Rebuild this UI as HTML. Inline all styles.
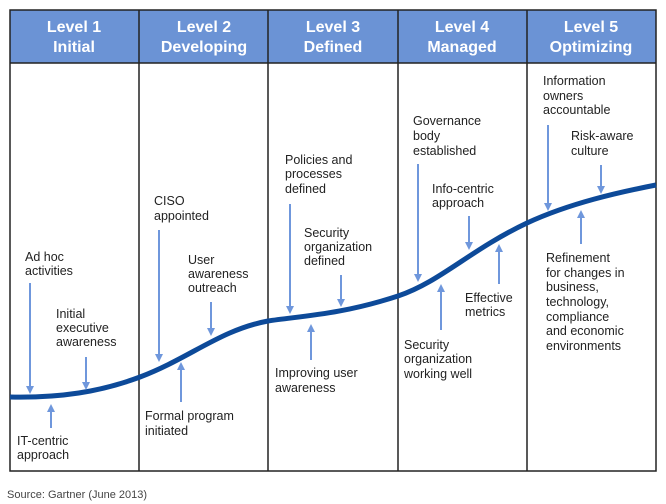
<!DOCTYPE html>
<html><head><meta charset="utf-8"><style>
html,body{margin:0;padding:0;background:#fff;}
svg{display:block;}
text{font-family:"Liberation Sans",Arial,sans-serif;}
.t{font-size:12.5px;fill:#222;}
.h{font-size:16px;font-weight:bold;fill:#fff;text-anchor:middle;}
.a{stroke:#6f97dc;stroke-width:2;fill:none;}
</style></head><body>
<svg width="666" height="504" viewBox="0 0 666 504">
<defs>
<marker id="m" markerWidth="8" markerHeight="8" refX="4" refY="4" orient="auto" markerUnits="userSpaceOnUse">
<path d="M0,0 L8,4 L0,8 z" fill="#6f97dc"/></marker>
</defs>
<rect x="10" y="10" width="646" height="53" fill="#6b93d5"/>
<rect x="10" y="10" width="646" height="461" fill="none" stroke="#222" stroke-width="1.5"/>
<line x1="10" y1="63" x2="656" y2="63" stroke="#222" stroke-width="1.5"/>
<g stroke="#222" stroke-width="1.5">
<line x1="139" y1="10" x2="139" y2="471"/><line x1="268" y1="10" x2="268" y2="471"/>
<line x1="398" y1="10" x2="398" y2="471"/><line x1="527" y1="10" x2="527" y2="471"/>
</g>
<text class="h" x="74" y="32">Level 1</text><text class="h" x="74" y="52">Initial</text>
<text class="h" x="204" y="32">Level 2</text><text class="h" x="204" y="52">Developing</text>
<text class="h" x="333" y="32">Level 3</text><text class="h" x="333" y="52">Defined</text>
<text class="h" x="462" y="32">Level 4</text><text class="h" x="462" y="52">Managed</text>
<text class="h" x="591" y="32">Level 5</text><text class="h" x="591" y="52">Optimizing</text>

<path d="M10,397 C60,398 100,392 140,377 C190,358 220,330 268,321 C300,316 340,315 398,296 C440,282 470,250 527,223 C570,203 620,192 656,185" fill="none" stroke="#0d4a99" stroke-width="5"/>

<g class="a">
<line x1="30" y1="283" x2="30" y2="390" marker-end="url(#m)"/>
<line x1="86" y1="357" x2="86" y2="386" marker-end="url(#m)"/>
<line x1="51" y1="428" x2="51" y2="408" marker-end="url(#m)"/>
<line x1="159" y1="230" x2="159" y2="358" marker-end="url(#m)"/>
<line x1="211" y1="302" x2="211" y2="332" marker-end="url(#m)"/>
<line x1="181" y1="402" x2="181" y2="366" marker-end="url(#m)"/>
<line x1="290" y1="204" x2="290" y2="310" marker-end="url(#m)"/>
<line x1="341" y1="275" x2="341" y2="303" marker-end="url(#m)"/>
<line x1="311" y1="360" x2="311" y2="328" marker-end="url(#m)"/>
<line x1="418" y1="164" x2="418" y2="278" marker-end="url(#m)"/>
<line x1="469" y1="216" x2="469" y2="246" marker-end="url(#m)"/>
<line x1="499" y1="284" x2="499" y2="248" marker-end="url(#m)"/>
<line x1="441" y1="330" x2="441" y2="288" marker-end="url(#m)"/>
<line x1="548" y1="125" x2="548" y2="207" marker-end="url(#m)"/>
<line x1="601" y1="165" x2="601" y2="190" marker-end="url(#m)"/>
<line x1="581" y1="244" x2="581" y2="214" marker-end="url(#m)"/>
</g>

<g class="t">
<text x="25" y="261">Ad hoc</text><text x="25" y="275">activities</text>
<text x="56" y="318">Initial</text><text x="56" y="332">executive</text><text x="56" y="346">awareness</text>
<text x="17" y="445">IT-centric</text><text x="17" y="459">approach</text>
<text x="154" y="205">CISO</text><text x="154" y="220">appointed</text>
<text x="188" y="264">User</text><text x="188" y="278">awareness</text><text x="188" y="292">outreach</text>
<text x="145" y="420">Formal program</text><text x="145" y="435">initiated</text>
<text x="285" y="164">Policies and</text><text x="285" y="178">processes</text><text x="285" y="193">defined</text>
<text x="304" y="237">Security</text><text x="304" y="251">organization</text><text x="304" y="265">defined</text>
<text x="275" y="377">Improving user</text><text x="275" y="392">awareness</text>
<text x="413" y="125">Governance</text><text x="413" y="140">body</text><text x="413" y="155">established</text>
<text x="432" y="193">Info-centric</text><text x="432" y="207">approach</text>
<text x="465" y="302">Effective</text><text x="465" y="316">metrics</text>
<text x="404" y="349">Security</text><text x="404" y="363">organization</text><text x="404" y="378">working well</text>
<text x="543" y="85">Information</text><text x="543" y="100">owners</text><text x="543" y="114">accountable</text>
<text x="571" y="140">Risk-aware</text><text x="571" y="155">culture</text>
<text x="546" y="262">Refinement</text><text x="546" y="277">for changes in</text><text x="546" y="291">business,</text><text x="546" y="306">technology,</text><text x="546" y="321">compliance</text><text x="546" y="335">and economic</text><text x="546" y="350">environments</text>
</g>
<text x="7" y="498" style="font-size:11px;fill:#444">Source: Gartner (June 2013)</text>
</svg>
</body></html>
